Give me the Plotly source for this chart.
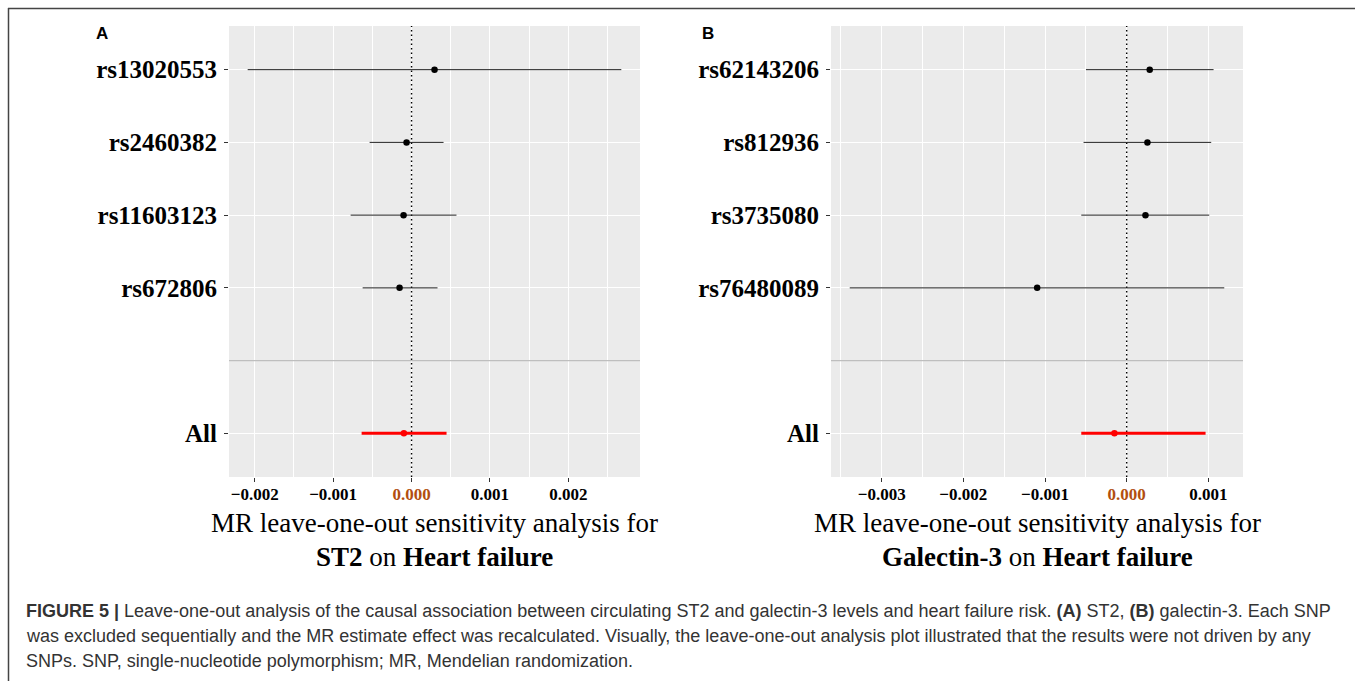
import plotly.graph_objects as go

# ---------------- data ----------------
snps_a = ["rs13020553", "rs2460382", "rs11603123", "rs672806"]
b_a = [0.000293, -0.000064, -0.000102, -0.000153]
lo_a = [-0.00209, -0.000535, -0.000777, -0.000624]
up_a = [0.002675, 0.000408, 0.000573, 0.000331]
all_a = [-0.000098, -0.000637, 0.000446]  # b, lo, up

snps_b = ["rs62143206", "rs812936", "rs3735080", "rs76480089"]
b_b = [0.000282, 0.000254, 0.000230, -0.001096]
lo_b = [-0.000498, -0.000528, -0.000556, -0.003391]
up_b = [0.001064, 0.001035, 0.001011, 0.001195]
all_b = [-0.000150, -0.000556, 0.000966]

ticks_a = [-0.002, -0.001, 0.000, 0.001, 0.002]
ticks_b = [-0.003, -0.002, -0.001, 0.000, 0.001]

exposure_a = "ST2"
exposure_b = "Galectin-3"
outcome = "Heart failure"

caption_lines = [
    "<b>FIGURE 5 |</b> Leave-one-out analysis of the causal association between circulating ST2 and galectin-3 levels and heart failure risk. <b>(A)</b> ST2, <b>(B)</b> galectin-3. Each SNP",
    "was excluded sequentially and the MR estimate effect was recalculated. Visually, the leave-one-out analysis plot illustrated that the results were not driven by any",
    "SNPs. SNP, single-nucleotide polymorphism; MR, Mendelian randomization.",
]

# ---------------- layout helpers ----------------
W, H = 1355, 681
SERIF = "Liberation Serif, Times New Roman, serif"
SANS = "Liberation Sans, Arial, sans-serif"
ZERO_COL = "#B24E10"


def px_x(p):
    return p / W


def px_y(p):
    return 1 - p / H


fig = go.Figure()


def add_panel(snps, b, lo, up, allv, ticks, xa, ya, dom_x):
    n = len(snps)
    ylo, yhi = 0.4, n + 2.6
    # dotted reference line at zero (drawn first, beneath the estimates)
    fig.add_trace(go.Scatter(
        x=[0, 0], y=[ylo, yhi], mode="lines", xaxis=xa, yaxis=ya,
        line=dict(color="black", width=1.4, dash="1.5px,3px"),
        showlegend=False, hoverinfo="skip"))
    # levels: All=1, ""=2, SNPs 3..n+2 (first SNP at top)
    ypos = [n + 2 - i for i in range(n)]
    fig.add_trace(go.Scatter(
        x=b, y=ypos, mode="markers", xaxis=xa, yaxis=ya,
        marker=dict(color="black", size=6.5),
        error_x=dict(type="data", symmetric=False,
                     array=[u - v for u, v in zip(up, b)],
                     arrayminus=[v - l for v, l in zip(b, lo)],
                     color="#222222", thickness=1.0, width=0),
        showlegend=False, hoverinfo="skip"))
    fig.add_trace(go.Scatter(
        x=[allv[0]], y=[1], mode="markers", xaxis=xa, yaxis=ya,
        marker=dict(color="red", size=6.5),
        error_x=dict(type="data", symmetric=False,
                     array=[allv[2] - allv[0]], arrayminus=[allv[0] - allv[1]],
                     color="red", thickness=3, width=0),
        showlegend=False, hoverinfo="skip"))
    xmin = min(lo + [allv[1]])
    xmax = max(up + [allv[2]])
    pad = 0.05 * (xmax - xmin)
    ticktext = []
    for t in ticks:
        s = f"{abs(t):.3f}"
        if t < 0:
            s = "\u2212" + s
        if abs(t) < 1e-12:
            s = f'<span style="color:{ZERO_COL}">{s}</span>'
        ticktext.append(s)
    axname = "xaxis" if xa == "x" else "xaxis" + xa[1:]
    ayname = "yaxis" if ya == "y" else "yaxis" + ya[1:]
    fig.layout[axname] = dict(
        domain=dom_x, range=[xmin - pad, xmax + pad], anchor=ya,
        tickvals=ticks, ticktext=ticktext,
        tickfont=dict(family=SERIF, size=17, color="black", weight="bold"),
        ticks="outside", ticklen=4, tickcolor="#333333", tickwidth=1,
        ticklabelstandoff=-2,
        showgrid=True, gridcolor="white", gridwidth=1.1,
        minor=dict(dtick=0.0005, tick0=0.0005, showgrid=True, gridcolor="white",
                   gridwidth=0.55, ticks=""),
        zeroline=False, showline=False, fixedrange=True)
    fig.layout[ayname] = dict(
        domain=[px_y(477), px_y(26)], range=[ylo, yhi], anchor=xa,
        tickvals=[1] + ypos, ticktext=["All"] + snps,
        tickfont=dict(family=SERIF, size=25, color="black", weight="bold"),
        ticks="outside", ticklen=4, tickcolor="#333333", tickwidth=1,
        ticklabelstandoff=2,
        showgrid=True, gridcolor="white", gridwidth=1.1,
        zeroline=False, showline=False, fixedrange=True)
    fig.add_shape(type="line", xref=f"{xa} domain", yref=ya, x0=0, x1=1,
                  y0=2, y1=2, line=dict(color="#BEBEBE", width=1.3),
                  layer="above")


add_panel(snps_a, b_a, lo_a, up_a, all_a, ticks_a, "x", "y", [px_x(229), px_x(640)])
add_panel(snps_b, b_b, lo_b, up_b, all_b, ticks_b, "x2", "y2", [px_x(831), px_x(1243)])

ann = []
for cx, expo in [((229 + 640) / 2, exposure_a), ((831 + 1243) / 2, exposure_b)]:
    ann.append(dict(x=px_x(cx), y=px_y(523), xref="paper", yref="paper",
                    text="MR leave-one-out sensitivity analysis for", showarrow=False,
                    xanchor="center", yanchor="middle",
                    font=dict(family=SERIF, size=27, color="black")))
    ann.append(dict(x=px_x(cx), y=px_y(557), xref="paper", yref="paper",
                    text=f"<b>{expo}</b> on <b>{outcome}</b>", showarrow=False,
                    xanchor="center", yanchor="middle",
                    font=dict(family=SERIF, size=27, color="black")))
for lab, lx in [("A", 102), ("B", 708)]:
    ann.append(dict(x=px_x(lx), y=px_y(34), xref="paper", yref="paper",
                    text=f"<b>{lab}</b>", showarrow=False,
                    xanchor="center", yanchor="middle",
                    font=dict(family=SANS, size=17, color="black")))
for i, (line, cy) in enumerate(zip(caption_lines, [611, 636, 661])):
    ann.append(dict(x=px_x(24), y=px_y(cy), xref="paper", yref="paper",
                    text=line, showarrow=False, xanchor="left", yanchor="middle",
                    font=dict(family=SANS, size=18, color="#333333")))

# frame (top and left rules)
fig.add_shape(type="line", xref="paper", yref="paper", x0=px_x(8), x1=1,
              y0=px_y(8.5), y1=px_y(8.5), line=dict(color="#444444", width=1.5))
fig.add_shape(type="line", xref="paper", yref="paper", x0=px_x(8.5), x1=px_x(8.5),
              y0=px_y(8), y1=0, line=dict(color="#444444", width=1.5))

fig.update_layout(width=W, height=H, margin=dict(l=0, r=0, t=0, b=0),
                  paper_bgcolor="white", plot_bgcolor="#EBEBEB",
                  annotations=ann, showlegend=False)

fig.write_html("out.html", config={"displayModeBar": False},
               post_script="document.body.style.margin='0';document.body.style.overflow='hidden';")
